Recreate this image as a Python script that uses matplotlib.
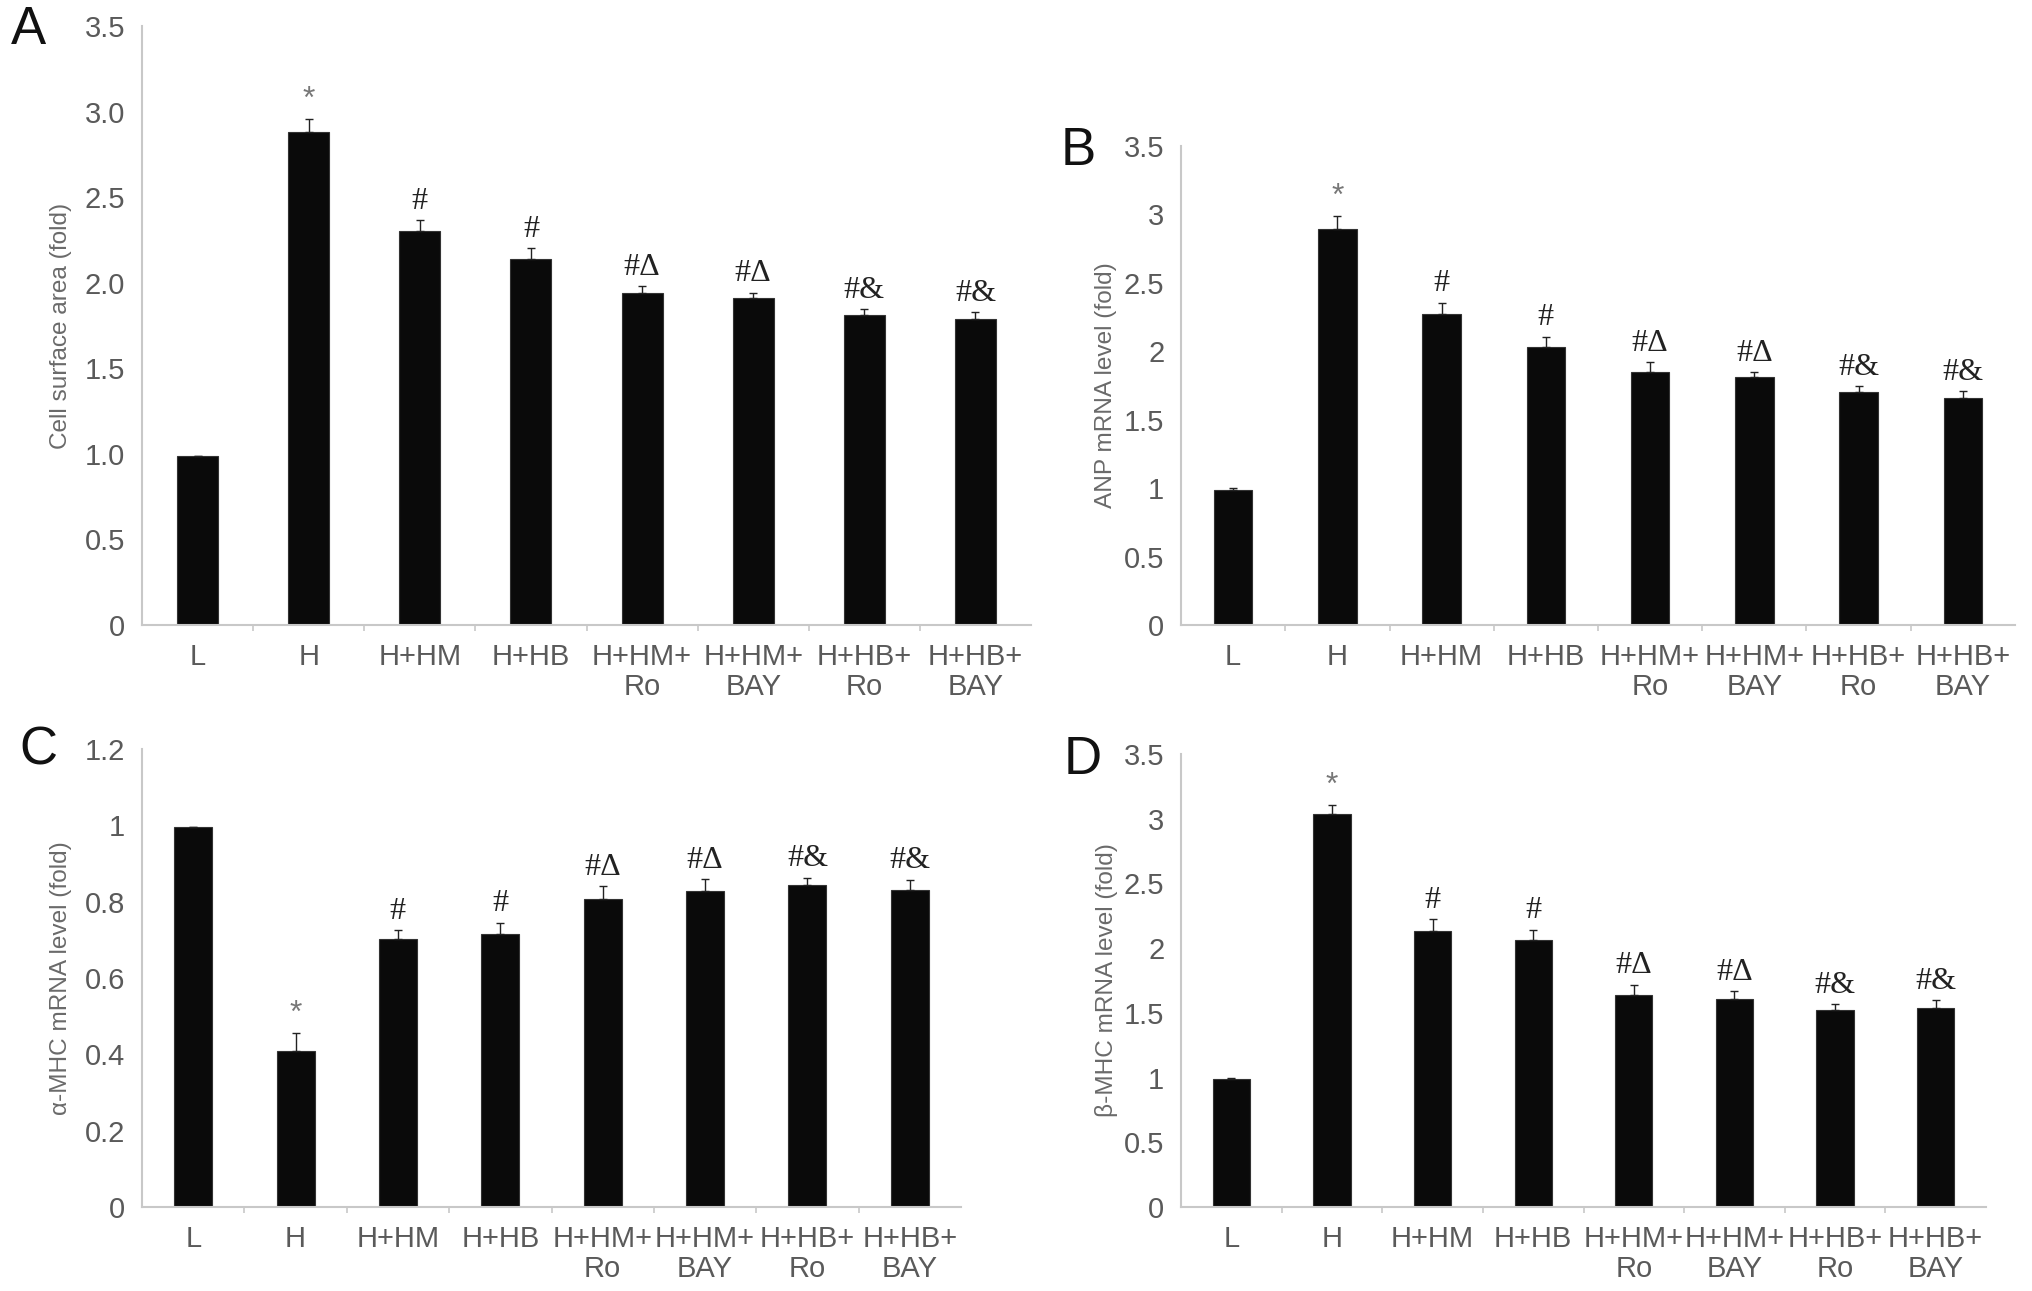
import matplotlib
matplotlib.use("Agg")
import matplotlib.pyplot as plt
import numpy as np
from matplotlib import font_manager

names = {f.name for f in font_manager.fontManager.ttflist}
cond = 'Liberation Sans Narrow' if 'Liberation Sans Narrow' in names else 'Liberation Sans'

categories = ["L", "H", "H+HM", "H+HB", "H+HM+\nRo", "H+HM+\nBAY", "H+HB+\nRo", "H+HB+\nBAY"]
marks = ["", "*", "#", "#", "#Δ", "#Δ", "#&", "#&"]

a_vals = [0.99, 2.88, 2.30, 2.14, 1.94, 1.91, 1.81, 1.79]
a_err = [0.0, 0.075, 0.064, 0.06, 0.04, 0.032, 0.038, 0.04]
b_vals = [0.99, 2.89, 2.27, 2.03, 1.85, 1.81, 1.70, 1.66]
b_err = [0.01, 0.10, 0.086, 0.078, 0.07, 0.04, 0.046, 0.049]
c_vals = [0.996, 0.408, 0.701, 0.715, 0.807, 0.828, 0.844, 0.831]
c_err = [0.0, 0.047, 0.024, 0.03, 0.034, 0.032, 0.019, 0.027]
d_vals = [0.99, 3.04, 2.13, 2.06, 1.64, 1.61, 1.52, 1.54]
d_err = [0.01, 0.064, 0.092, 0.084, 0.078, 0.056, 0.047, 0.056]

W, H = 2032, 1291
fig = plt.figure(figsize=(W / 100, H / 100), dpi=100)

def ax_at(l, r, t, b):
    return fig.add_axes([l / W, 1 - b / H, (r - l) / W, (b - t) / H])

panels = [
    dict(box=(142, 1031, 26, 625), vals=a_vals, err=a_err, ymax=3.5, ticks=np.arange(0, 3.51, 0.5),
         fmt=lambda v: "0" if v == 0 else f"{v:.1f}", ylabel="Cell surface area (fold)",
         letter="A", lpos=(28, 30), ylx=61),
    dict(box=(1181, 2015, 146, 625), vals=b_vals, err=b_err, ymax=3.5, ticks=np.arange(0, 3.51, 0.5),
         fmt=lambda v: f"{v:g}", ylabel="ANP mRNA level (fold)",
         letter="B", lpos=(1078, 151), ylx=1106),
    dict(box=(142, 961, 749, 1207), vals=c_vals, err=c_err, ymax=1.2, ticks=np.arange(0, 1.21, 0.2),
         fmt=lambda v: f"{round(v, 1):g}", ylabel="α-MHC mRNA level (fold)",
         letter="C", lpos=(38, 751), ylx=61),
    dict(box=(1181, 1986, 754, 1207), vals=d_vals, err=d_err, ymax=3.5, ticks=np.arange(0, 3.51, 0.5),
         fmt=lambda v: f"{v:g}", ylabel="β-MHC mRNA level (fold)",
         letter="D", lpos=(1083, 760), ylx=1106),
]

gray = "#5a5a5a"
axcol = "#c8c8c8"
for p in panels:
    l, r, t, b = p["box"]
    ax = ax_at(l, r, t, b)
    x = np.arange(len(categories)) + 0.5
    yerr = [np.zeros(len(p["err"])), p["err"]]
    ax.bar(x, p["vals"], width=0.37, color="#0a0a0a", edgecolor="#333333", linewidth=0.8,
           yerr=yerr, error_kw=dict(ecolor="#222222", elinewidth=1.0, capsize=3, capthick=1.0))
    ax.set_xlim(0, len(categories))
    ax.set_ylim(0, p["ymax"])
    ax.set_xticks(x)
    ax.set_xticklabels(categories, fontsize=21, color=gray, family=cond, linespacing=1.1)
    ax.set_xticks(np.arange(1, len(categories)), minor=True)
    ax.tick_params(axis="x", which="major", length=0, pad=13)
    ax.tick_params(axis="x", which="minor", length=4, color=axcol, width=1.2)
    ax.set_yticks(p["ticks"])
    ax.set_yticklabels([p["fmt"](v) for v in p["ticks"]], fontsize=21, color=gray, family=cond)
    ax.tick_params(axis="y", length=0, pad=12)
    for s in ["top", "right"]:
        ax.spines[s].set_visible(False)
    for s in ["left", "bottom"]:
        ax.spines[s].set_color(axcol)
        ax.spines[s].set_linewidth(1.5)
    for xi, v, e, m in zip(x, p["vals"], p["err"], marks):
        if not m:
            continue
        col = "#777777" if m == "*" else "#222222"
        fam = "Liberation Sans" if m == "*" else "Liberation Serif"
        ax.annotate(m, (xi, v + e), xytext=(0, 3), textcoords="offset points",
                    ha="center", va="bottom", fontsize=23, color=col, family=fam)
    yc = 1 - (t + b) / 2 / H
    fig.text(p["ylx"] / W, yc, p["ylabel"], rotation=90, ha="center", va="center",
             fontsize=17.6, color="#6a6a6a", family="Liberation Sans")
    fig.text(p["lpos"][0] / W, 1 - p["lpos"][1] / H, p["letter"], ha="center", va="center",
             fontsize=38, color="#111111", family="Liberation Sans", fontweight="light")

fig.savefig("out.png", dpi=100, facecolor="white")
